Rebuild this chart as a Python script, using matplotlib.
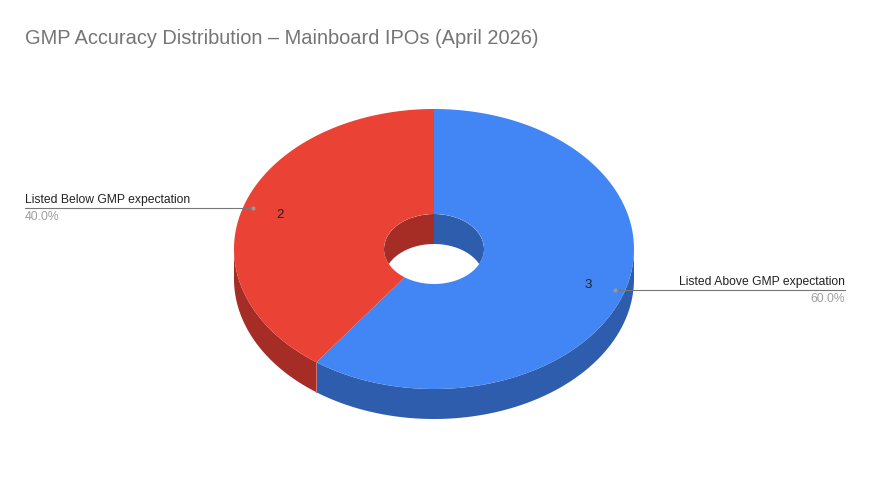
import numpy as np
import matplotlib.pyplot as plt
from matplotlib.patches import Polygon, Ellipse

plt.rcParams['font.family'] = ['Liberation Sans', 'DejaVu Sans']

title = 'GMP Accuracy Distribution – Mainboard IPOs (April 2026)'
labels = ['Listed Above GMP expectation', 'Listed Below GMP expectation']
values = [3, 2]
top_colors = ['#4285F4', '#EA4335']
side_colors = ['#2E5DAE', '#A52D25']

# pie geometry in pixels
cx, cy = 434, 249
rx, ry = 200, 140
hole = 0.25
depth = 30


def arc(a, b, r=1.0, dy=0, n=120):
    # angles in degrees, clockwise from 12 o'clock
    t = np.radians(np.linspace(a, b, n))
    return np.column_stack([cx + r * rx * np.sin(t), cy - r * ry * np.cos(t) + dy])


def overlap(a, b, lo, hi):
    return max(a, lo), min(b, hi)


fig = plt.figure(figsize=(8.69, 4.90), dpi=100)
ax = fig.add_axes([0, 0, 1, 1])
ax.set_xlim(0, 869)
ax.set_ylim(490, 0)
ax.axis('off')

total = sum(values)
bounds = np.concatenate([[0], np.cumsum(values) / total * 360])

# outer side wall (front half)
for i in range(len(values)):
    a, b = overlap(bounds[i], bounds[i + 1], 90, 270)
    if b > a:
        pts = np.vstack([arc(a, b), arc(b, a, dy=depth)])
        ax.add_patch(Polygon(pts, closed=True, fc=side_colors[i], ec='none', zorder=1))
        for ang in (a, b):
            if ang not in (90, 270):
                p = arc(ang, ang, n=1)[0]
                ax.plot([p[0], p[0]], [p[1], p[1] + depth], color='#c77', lw=0.6, zorder=1.5)

# top face
for i in range(len(values)):
    a, b = bounds[i], bounds[i + 1]
    pts = np.vstack([arc(a, b), arc(b, a, r=hole)])
    ax.add_patch(Polygon(pts, closed=True, fc=top_colors[i], ec='none', zorder=2))

# inner wall seen through the hole (back half)
clip = Ellipse((cx, cy), 2 * rx * hole, 2 * ry * hole, transform=ax.transData)
for i in range(len(values)):
    for lo, hi in ((0, 90), (270, 360)):
        a, b = overlap(bounds[i], bounds[i + 1], lo, hi)
        if b > a:
            pts = np.vstack([arc(a, b, r=hole), arc(b, a, r=hole, dy=depth)])
            pg = Polygon(pts, closed=True, fc=side_colors[i], ec='none', zorder=3)
            ax.add_patch(pg)
            pg.set_clip_path(clip)

# labels
for i in range(len(values)):
    mid = (bounds[i] + bounds[i + 1]) / 2
    vx, vy = arc(mid, mid, r=0.81, n=1)[0]
    ax.text(vx, vy + 1, str(values[i]), fontsize=9.5, color='#222222', ha='center', va='center', zorder=5)
    dx, dy = arc(mid, mid, r=0.95, n=1)[0]
    pct = f'{values[i] / total * 100:.1f}%'
    if dx > cx:
        x_end, ha = 845, 'right'
    else:
        x_end, ha = 25, 'left'
    ax.plot([dx, x_end], [dy, dy], color='#777777', lw=0.8, zorder=4)
    ax.plot(dx, dy, 'o', ms=3, color='#999999', mec='none', zorder=4)
    ax.text(x_end, dy - 2, labels[i], fontsize=8.7, color='#222222', ha=ha, va='bottom', zorder=5)
    ax.text(x_end, dy + 3, pct, fontsize=8.7, color='#9e9e9e', ha=ha, va='top', zorder=5)

ax.text(25, 38, title, fontsize=14.4, color='#757575', ha='left', va='center')

fig.savefig('out.png', dpi=100)
